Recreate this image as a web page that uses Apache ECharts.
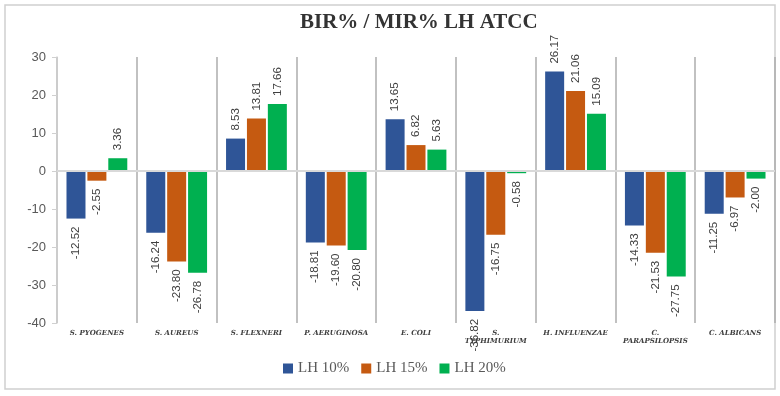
<!DOCTYPE html>
<html>
<head>
<meta charset="utf-8">
<title>BIR% / MIR% LH ATCC</title>
<script src="https://cdn.jsdelivr.net/npm/echarts@6/dist/echarts.min.js"></script>
<style>
    html, body { margin: 0; padding: 0; background: #fff; }
    #chart { width: 780px; height: 396px; }
</style>
</head>
<body>
<div id="chart"></div>
<script>
    // data
    const categories = ['S. PYOGENES', 'S. AUREUS', 'S. FLEXNERI', 'P. AERUGINOSA', 'E. COLI',
        'S.\nTYPHIMURIUM', 'H. INFLUENZAE', 'C.\nPARAPSILOPSIS', 'C. ALBICANS']
    const lh10 = [-12.52, -16.24, 8.53, -18.81, 13.65, -36.82, 26.17, -14.33, -11.25]
    const lh15 = [-2.55, -23.80, 13.81, -19.60, 6.82, -16.75, 21.06, -21.53, -6.97]
    const lh20 = [3.36, -26.78, 17.66, -20.80, 5.63, -0.58, 15.09, -27.75, -2.00]
    const seriesNames = ['LH 10%', 'LH 15%', 'LH 20%']
    const colors = ['#2F5597', '#C55A11', '#00B050']

    // label above positive bars, below negative ones, rotated like the excel one
    function withLabels(arr) {
        return arr.map(v => ({
            value: v,
            label: {
                position: v >= 0 ? 'top' : 'bottom',
                align: v >= 0 ? 'left' : 'right'
            }
        }))
    }

    function makeSeries(name, arr, i) {
        let s = {
            name: name,
            type: 'bar',
            barWidth: 19,
            barGap: '10%',
            itemStyle: { color: colors[i] },
            label: {
                show: true,
                rotate: 90,
                distance: 8,
                verticalAlign: 'middle',
                color: '#404040',
                fontSize: 11.5,
                fontFamily: 'Liberation Sans',
                formatter: p => p.value.toFixed(2)
            },
            data: withLabels(arr)
        }
        if (i === 0) {
            // zero line
            s.markLine = {
                silent: true,
                symbol: 'none',
                label: { show: false },
                lineStyle: { color: '#D9D9D9', width: 2, type: 'solid' },
                data: [{ yAxis: 0 }]
            }
        }
        return s
    }

    let myChart = echarts.init(document.getElementById('chart'))
    myChart.setOption({
        animation: false,
        title: {
            text: 'BIR% / MIR% LH ATCC',
            left: 300,
            top: 12,
            padding: 0,
            textStyle: {
                fontFamily: 'Liberation Serif',
                fontWeight: 'bold',
                fontSize: 21,
                color: '#333'
            }
        },
        graphic: [{
            type: 'rect',
            shape: { x: 5, y: 5, width: 770, height: 384 },
            style: { fill: 'none', stroke: '#D0D0D0', lineWidth: 1.5 },
            silent: true
        }],
        legend: {
            data: seriesNames,
            left: 283,
            top: 361,
            padding: 0,
            icon: 'rect',
            itemWidth: 10,
            itemHeight: 10,
            itemGap: 12,
            textStyle: {
                fontFamily: 'Liberation Serif',
                fontSize: 15,
                color: '#595959'
            }
        },
        grid: {
            left: 57,
            right: 5,
            top: 57,
            bottom: 73,
            containLabel: false
        },
        xAxis: {
            type: 'category',
            data: categories,
            axisLine: { show: false, onZero: false },
            axisTick: { show: false },
            splitLine: {
                show: true,
                interval: 0,
                lineStyle: { color: '#ADADAD', width: 1.5 }
            },
            axisLabel: {
                interval: 0,
                margin: 6,
                fontFamily: 'DejaVu Serif',
                fontStyle: 'italic',
                fontWeight: 'bold',
                fontSize: 7,
                lineHeight: 8,
                color: '#404040'
            }
        },
        yAxis: {
            type: 'value',
            min: -40,
            max: 30,
            interval: 10,
            axisLine: { show: true, lineStyle: { color: '#D0D0D0', width: 1.5 } },
            axisTick: { show: true, length: 5, lineStyle: { color: '#D0D0D0' } },
            splitLine: { show: false },
            axisLabel: {
                margin: 11,
                fontFamily: 'Liberation Sans',
                fontSize: 13,
                color: '#595959'
            }
        },
        series: [
            makeSeries(seriesNames[0], lh10, 0),
            makeSeries(seriesNames[1], lh15, 1),
            makeSeries(seriesNames[2], lh20, 2)
        ]
    })
</script>
</body>
</html>
